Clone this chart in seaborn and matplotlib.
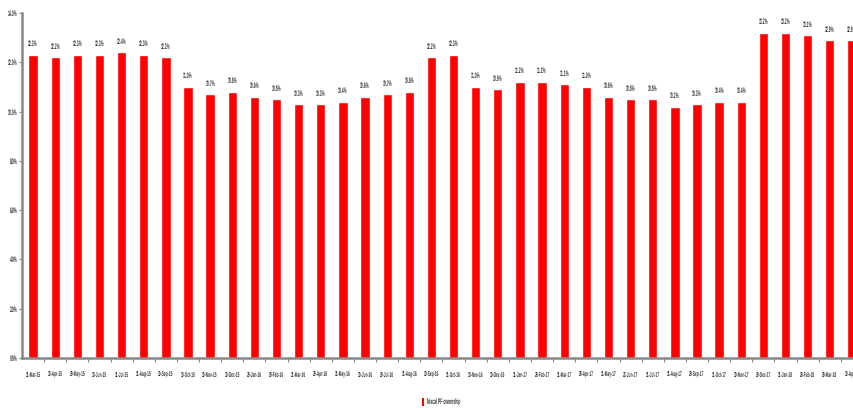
import os
import matplotlib
matplotlib.use("Agg")
import matplotlib.pyplot as plt
import matplotlib.font_manager as fm
import seaborn as sns
import pandas as pd
from matplotlib.patches import Patch
from matplotlib.ticker import FuncFormatter, MultipleLocator

dates = ["31-Mar-15", "30-Apr-15", "29-May-15", "30-Jun-15", "31-Jul-15", "31-Aug-15",
         "30-Sep-15", "30-Oct-15", "30-Nov-15", "30-Dec-15", "29-Jan-16", "29-Feb-16",
         "31-Mar-16", "29-Apr-16", "31-May-16", "30-Jun-16", "29-Jul-16", "31-Aug-16",
         "30-Sep-16", "31-Oct-16", "30-Nov-16", "30-Dec-16", "31-Jan-17", "28-Feb-17",
         "31-Mar-17", "28-Apr-17", "31-May-17", "22-Jun-17", "31-Jul-17", "31-Aug-17",
         "29-Sep-17", "31-Oct-17", "30-Nov-17", "29-Dec-17", "31-Jan-18", "28-Feb-18",
         "29-Mar-18", "30-Apr-18"]
ownership = [12.3, 12.2, 12.3, 12.3, 12.4, 12.3, 12.2, 11.0, 10.7, 10.8, 10.6, 10.5,
             10.3, 10.3, 10.4, 10.6, 10.7, 10.8, 12.2, 12.3, 11.0, 10.9, 11.2, 11.2,
             11.1, 11.0, 10.6, 10.5, 10.5, 10.2, 10.3, 10.4, 10.4, 13.2, 13.2, 13.1,
             12.9, 12.9]
series_name = "Nixcal PF ownership"


def make_narrow_font(sx=0.44, name="LibNarrowX"):
    """Build a horizontally condensed copy of Liberation Sans (like Arial Narrow)."""
    from fontTools.ttLib import TTFont
    src = fm.findfont(fm.FontProperties(family="Liberation Sans", weight="bold"),
                      fallback_to_default=False)
    f = TTFont(src)
    glyf = f["glyf"]
    hmtx = f["hmtx"]
    for gname in f.getGlyphOrder():
        g = glyf[gname]
        if g.isComposite():
            for c in g.components:
                c.x = int(round(c.x * sx))
        elif g.numberOfContours > 0:
            coords = g.coordinates
            for i in range(len(coords)):
                x, y = coords[i]
                coords[i] = (int(round(x * sx)), y)
        try:
            g.removeHinting()
        except Exception:
            pass
        adv, lsb = hmtx[gname]
        hmtx[gname] = (int(round(adv * sx)), int(round(lsb * sx)))
    for tag in ["fpgm", "prep", "cvt ", "hdmx", "LTSH", "VDMX", "kern", "gasp"]:
        if tag in f:
            del f[tag]
    for rec in f["name"].names:
        if rec.nameID in (1, 4, 16):
            rec.string = name
        elif rec.nameID == 6:
            rec.string = name + "-Regular"
        elif rec.nameID in (2, 17):
            rec.string = "Regular"
    if "OS/2" in f:
        f["OS/2"].usWeightClass = 400
    path = os.path.abspath(name + ".ttf")
    f.save(path)
    fm.fontManager.addfont(path)
    return fm.FontProperties(fname=path).get_name()


sns.set_style("white")
try:
    narrow = make_narrow_font()
    plt.rcParams["font.family"] = [narrow, "DejaVu Sans"]
except Exception:
    plt.rcParams["font.family"] = ["Liberation Sans", "DejaVu Sans"]
plt.rcParams["text.hinting"] = "no_hinting"

df = pd.DataFrame({"date": dates, "value": ownership})

fig = plt.figure(figsize=(8.54, 4.08), dpi=100)
ax = fig.add_axes([22 / 854, 50 / 408, (863 - 22) / 854, 345 / 408])
sns.barplot(data=df, x="date", y="value", color="#FF0000", saturation=1,
            width=0.42, ax=ax, order=dates)

ax.set_xlim(-0.5, len(dates) - 0.5)
ax.set_ylim(0, 14)
ax.yaxis.set_major_locator(MultipleLocator(2))
ax.yaxis.set_major_formatter(FuncFormatter(lambda v, p: f"{v:.1f}%"))
ax.set_xlabel("")
ax.set_ylabel("")

TXT = "#333333"
for i, v in enumerate(ownership):
    ax.annotate(f"{v:.1f}%", (i, v), xytext=(0, 5), textcoords="offset points",
                ha="center", va="bottom", fontsize=5.6, color=TXT,
                annotation_clip=False)

for side in ["top", "right"]:
    ax.spines[side].set_visible(False)
for side in ["left", "bottom"]:
    ax.spines[side].set_color("#888888")
    ax.spines[side].set_linewidth(1.8)

ax.tick_params(axis="y", which="major", left=True, length=2, width=0.8, color="#888888",
               labelsize=5.6, pad=1, labelcolor=TXT)
ax.set_xticks(range(len(dates)))
ax.set_xticklabels(dates)
ax.tick_params(axis="x", which="major", bottom=True, length=0, labelsize=5.3, pad=10,
               labelcolor=TXT)
ax.set_xticks([i + 0.5 for i in range(len(dates))], minor=True)
ax.tick_params(axis="x", which="minor", bottom=True, length=3, width=0.8, color="#888888")

handle = Patch(facecolor="#FF0000", edgecolor="none")
fig.legend([handle], [series_name], loc="center left",
           bbox_to_anchor=(415 / 854, 1 - 402 / 408),
           frameon=False, fontsize=5.6, handlelength=0.3, handleheight=1.3,
           handletextpad=0.3, labelcolor=TXT)

fig.savefig("out.png", dpi=100)
